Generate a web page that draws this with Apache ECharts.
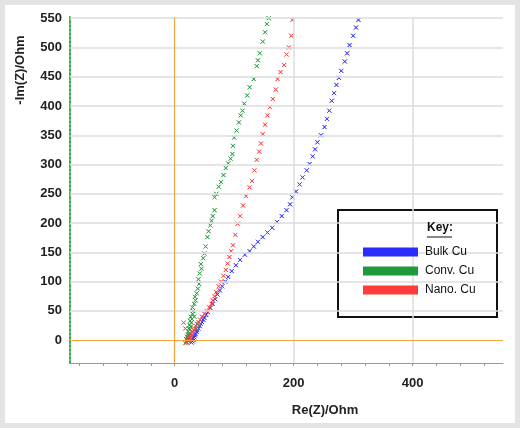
<!DOCTYPE html><html><head><meta charset="utf-8"><script src="https://cdn.jsdelivr.net/npm/echarts@6/dist/echarts.min.js"></script>
<style>html,body{margin:0;padding:0;background:#e4e4e4}#c{width:520px;height:428px}</style></head><body><div id="c"></div><script>
const seriesNames=['Bulk Cu','Conv. Cu','Nano. Cu'];
const bulk=[[28,-4],[30,-2],[32,0],[31,3],[33,5],[34,8],[35,11],[37,14],[38,17],[40,20],[42,24],[44,28],[46,31],[48,35],[50,38],[53,43],[56,48],[60,55],[64,62],[68,70],[72,78],[76,85],[80,92],[85,100],[90,108],[96,118],[103,128],[110,137],[118,146],[126,152],[133,160],[140,168],[148,176],[156,184],[164,192],[172,202],[180,212],[188,222],[194,232],[198,244],[204,254],[210,266],[215,278],[222,290],[227,301],[232,314],[236,326],[240,338],[246,350],[252,364],[256,378],[260,392],[264,409],[268,422],[272,436],[276,448],[280,460],[286,476],[290,490],[294,504],[300,520],[305,534],[309,547]];
const conv=[[18,-5],[20,-3],[22,0],[19,2],[23,4],[21,6],[24,8],[22,10],[25,12],[23,15],[26,18],[24,20],[27,23],[25,26],[28,30],[26,33],[29,36],[27,40],[30,45],[31,50],[30,56],[33,62],[35,68],[34,74],[37,80],[39,88],[41,96],[40,104],[42,114],[45,122],[44,130],[48,140],[50,148],[52,160],[55,176],[57,186],[60,196],[62,204],[64,212],[67,222],[67,244],[70,250],[74,262],[78,270],[82,282],[86,294],[90,302],[94,310],[97,318],[98,332],[100,346],[104,358],[108,372],[111,384],[114,392],[117,404],[122,418],[126,432],[133,446],[138,468],[140,478],[143,490],[148,510],[152,526],[155,540],[158,550],[36,20],[38,28],[33,40]];
const nano=[[20,-4],[23,-2],[25,0],[22,2],[26,4],[24,6],[28,8],[27,11],[30,14],[32,17],[34,20],[36,24],[38,27],[40,31],[43,35],[46,40],[50,45],[54,50],[58,56],[62,62],[64,68],[67,75],[70,82],[74,92],[78,100],[82,110],[86,120],[89,131],[92,142],[95,152],[98,162],[102,180],[106,199],[110,212],[115,230],[120,246],[126,261],[130,272],[134,290],[138,308],[142,322],[145,336],[148,352],[152,368],[156,384],[160,398],[165,412],[170,428],[173,446],[178,458],[184,470],[188,488],[192,500],[196,520],[198,547],[15,30],[18,20]];
const yLabels=[0,50,100,150,200,250,300,350,400,450,500,550];
const xLabels=[0,200,400];
const xTicks=[-160,-120,-80,-40,0,40,80,120,160,200,240,280,320,360,400,440,480,520];
const colors=['#2b2bff','#1e9a3c','#ff3b3b'];
const ch=echarts.init(document.getElementById('c'));
const gridLines=yLabels.filter(v=>v!==0).map(v=>({yAxis:v})).concat([{xAxis:200},{xAxis:400}]);
function mk(name,data,c){return {name,type:'scatter',data,symbol:'path://M0,0L2,2L4,0L2,2L4,4L2,2L0,4L2,2Z',symbolSize:4,
 itemStyle:{color:'rgba(0,0,0,0)',borderColor:c,borderWidth:1,opacity:0.75},z:3};}
ch.setOption({
 backgroundColor:'#e4e4e4',
 animation:false,
 grid:{left:70,right:17,top:17,bottom:65,outerBoundsMode:'none',containLabel:false},
 xAxis:{type:'value',min:-176,max:552,
  axisLine:{onZero:false,lineStyle:{color:'#999'}},axisTick:{show:true,customValues:xTicks,length:3,lineStyle:{color:'#999'}},
  axisLabel:{customValues:xLabels,fontWeight:'bold',fontSize:13,color:'#222',margin:14},splitLine:{show:false}},
 yAxis:{type:'value',min:-39,max:552,
  axisLine:{show:true,onZero:false,lineStyle:{color:'#3aa84a',type:'dotted',width:2}},axisTick:{show:false},
  axisLabel:{customValues:yLabels,fontWeight:'bold',fontSize:13,color:'#222',margin:8},splitLine:{show:false}},
 legend:{orient:'vertical',left:358,top:241,itemWidth:55,itemHeight:9,itemGap:7,icon:'rect',z:20,
  textStyle:{fontSize:12,color:'#111',padding:[0,0,0,2]},
  data:seriesNames.map((n,i)=>({name:n,itemStyle:{color:colors[i],borderWidth:0,opacity:1}}))},
 graphic:[
  {type:'rect',shape:{x:5,y:5,width:510,height:418},style:{fill:'#fff'},z:-10},
  {type:'rect',shape:{x:338,y:210,width:159,height:107},style:{fill:'#fff',stroke:'#111',lineWidth:2},z:3},
  {type:'text',left:427,top:222,style:{text:'Key:',fontSize:12,fontWeight:'bold',fill:'#111'},z:6},
  {type:'line',shape:{x1:427,y1:237,x2:452,y2:237},style:{stroke:'#111',lineWidth:1},z:6},
  {type:'text',x:20,y:70,rotation:Math.PI/2,style:{text:'-Im(Z)/Ohm',fontSize:13,fontWeight:'bold',fill:'#222',align:'center',verticalAlign:'middle'},z:6},
  {type:'text',x:325,y:410,style:{text:'Re(Z)/Ohm',fontSize:13,fontWeight:'bold',fill:'#222',align:'center',verticalAlign:'middle'},z:6}
 ],
 series:[
  {type:'scatter',data:[],silent:true,markLine:{silent:true,symbol:'none',label:{show:false},lineStyle:{color:'#dcdcdc',width:1.5,type:'solid'},data:gridLines},z:1},
  {type:'scatter',data:[],silent:true,markLine:{silent:true,symbol:'none',label:{show:false},lineStyle:{color:'#f5a540',width:1.2,type:'solid'},data:[{xAxis:0},{yAxis:0}]},z:2},
  mk(seriesNames[0],bulk,colors[0]),mk(seriesNames[1],conv,colors[1]),mk(seriesNames[2],nano,colors[2])
 ]
});
</script></body></html>
